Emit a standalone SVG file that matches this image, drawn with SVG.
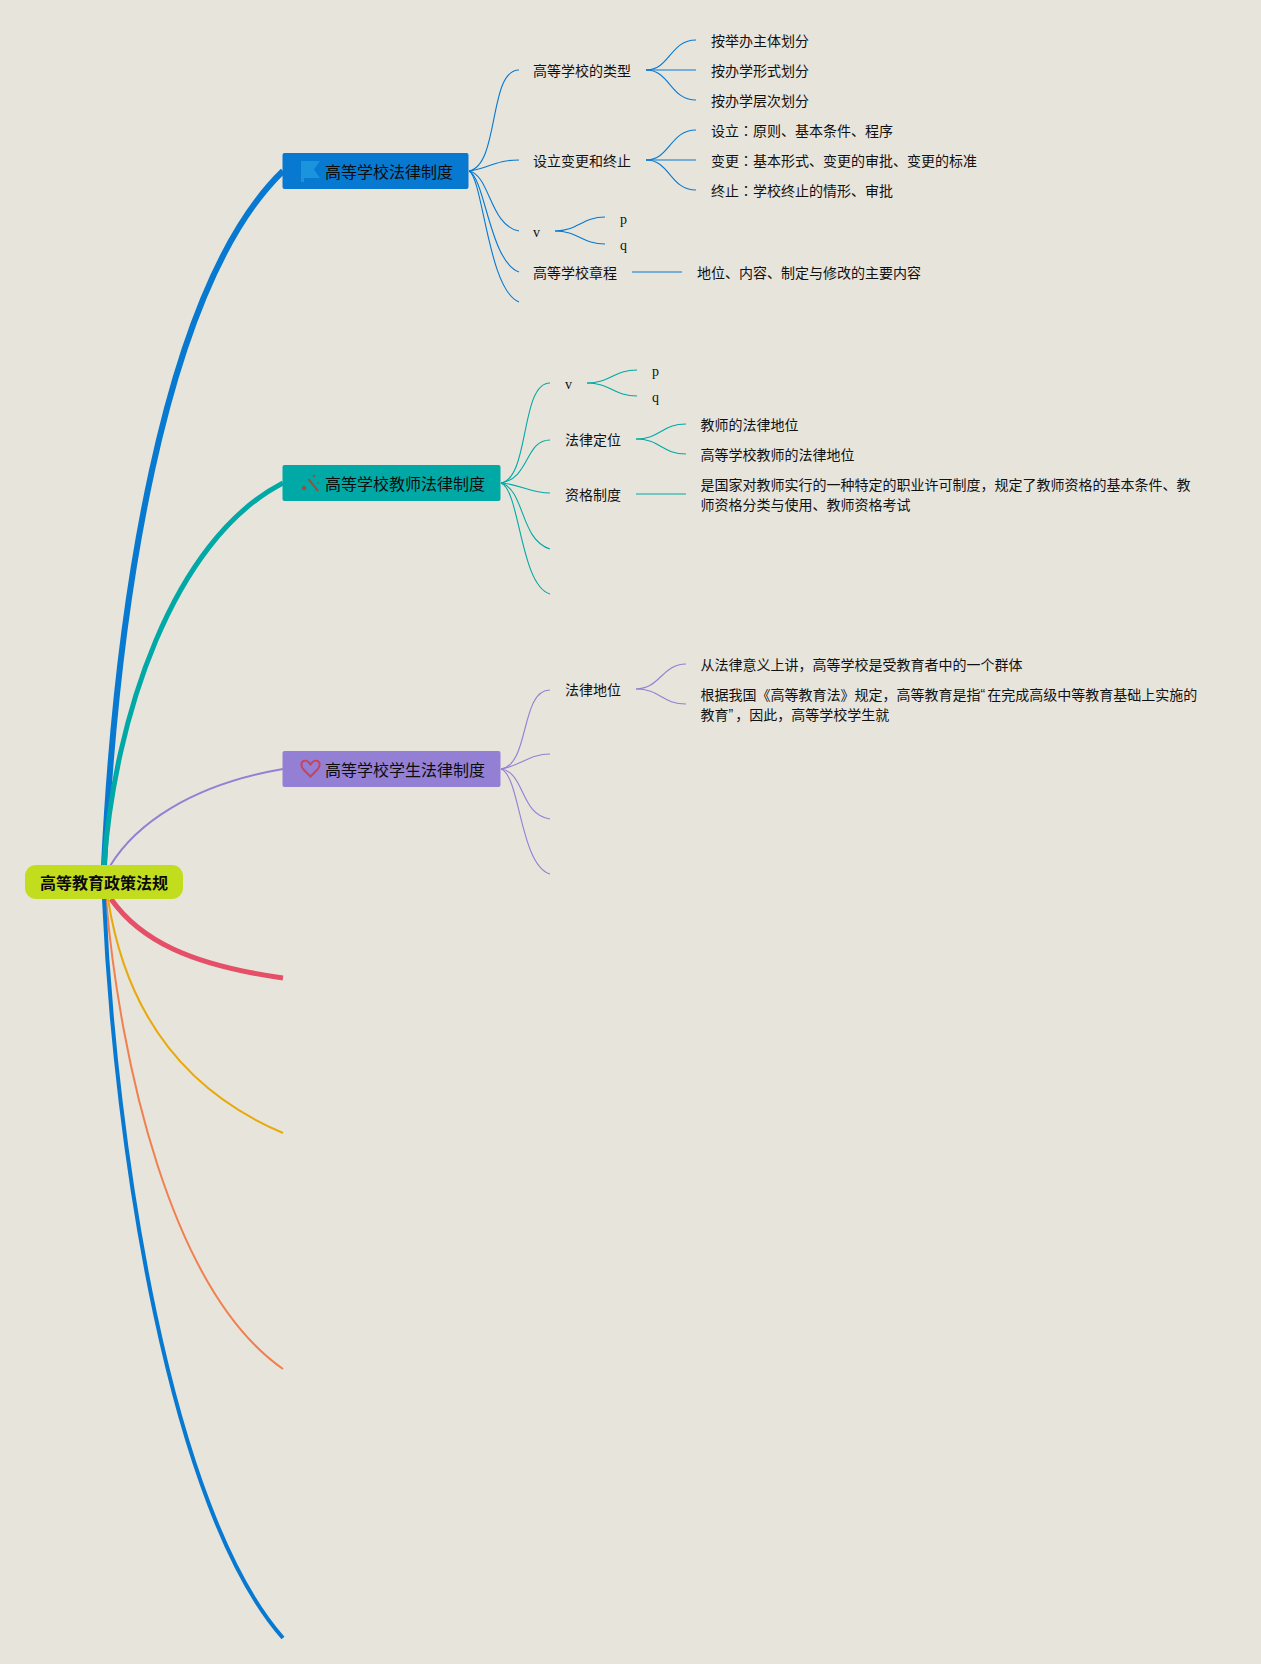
<svg xmlns="http://www.w3.org/2000/svg" width="1261" height="1664" viewBox="0 0 1261 1664">
<style>
text{font-family:"Noto Sans CJK SC","Noto Sans",sans-serif;fill:#111;dominant-baseline:central}
.s{font-size:14px}
.m{font-size:16px;fill:#0c0c0c}
.r{font-size:16px;font-weight:700;fill:#0c0c0c}
.l{font-family:"Liberation Serif",serif;font-size:14px}
.k{font-family:"Noto Sans CJK TC",sans-serif}
.q{font-family:"Liberation Sans",sans-serif}
path{fill:none}
.a{stroke:#0779d1}.b{stroke:#00a9a6}.c{stroke:#9380d4}
.t path{stroke-width:1.100}
</style>
<rect width="1261" height="1664" fill="#e7e4dc"/>
<g id="connectors">
<path d="M104 866C116 620 160 290 283 171" stroke="#0779d1" stroke-width="6"/>
<path d="M104 866C114 720 172 540 283 483" stroke="#00a9a6" stroke-width="5"/>
<path d="M110 866C135 825 190 785 283 769" stroke="#9380d4" stroke-width="2"/>
<path d="M111 899C140 940 190 965 283 978" stroke="#e55068" stroke-width="5"/>
<path d="M108 899C123 995 170 1085 283 1133" stroke="#e8a90a" stroke-width="2"/>
<path d="M106 899C120 1060 170 1290 283 1369" stroke="#f0804f" stroke-width="2"/>
<path d="M104 899C115 1150 170 1510 283 1638" stroke="#0779d1" stroke-width="4"/>
<g class="a t">
<path d="M469 171C500 165 488 70 519 70"/>
<path d="M469 171C490 168 495 160 519 160"/>
<path d="M469 171C490 175 490 226 519 231"/>
<path d="M469 171C485 178 490 262 519 272"/>
<path d="M469 171C483 178 488 290 519 302"/>
<path d="M646 70C670 70 670 40 696 40"/><path d="M646 70H696"/><path d="M646 70C670 70 670 100 696 100"/>
<path d="M646 160C670 160 670 130 696 130"/><path d="M646 160H696"/><path d="M646 160C670 160 670 190 696 190"/>
<path d="M555 231C578 231 582 217 605 217"/><path d="M555 231C578 231 582 244 605 244"/>
<path d="M632 272H682"/>
</g>
<g class="b t">
<path d="M501 483C530 478 520 383 550 383"/>
<path d="M501 483C530 478 525 440 550 440"/>
<path d="M501 483C520 484 530 493 550 493"/>
<path d="M501 483C525 490 520 540 550 549"/>
<path d="M501 483C520 490 520 585 550 594"/>
<path d="M587 383C610 383 614 370 637 370"/><path d="M587 383C610 383 614 396 637 396"/>
<path d="M636 439C660 439 662 424 686 424"/><path d="M636 439C660 439 662 454 686 454"/>
<path d="M636 494H686"/>
</g>
<g class="c t">
<path d="M501 769C530 765 520 690 550 690"/>
<path d="M501 769C520 766 530 754 550 754"/>
<path d="M501 769C525 772 520 815 550 819"/>
<path d="M501 769C520 775 520 865 550 874"/>
<path d="M636 689C660 689 662 664 686 664"/><path d="M636 689C660 689 662 704 686 704"/>
</g>
</g>
<g id="root"><rect x="25" y="865" width="158" height="34" rx="11" fill="#c2dd1e"/><text class="r" x="40" y="882">高等教育政策法规</text></g>
<g id="n1"><rect x="282.500" y="153" width="186" height="36" rx="2" fill="#0779d1"/><path d="M301 161H320L314 169.500 320 178H304V182H301Z" style="fill:#1a94dd"/><text class="m" x="325" y="170.500">高等学校法律制度</text></g>
<g id="n2"><rect x="282.500" y="465" width="218" height="36" rx="2" fill="#00a9a6"/><path d="M308.500 479L318 491" stroke="#a04a35" stroke-width="2"/><path d="M301.500 488l2.500-2.500 2.500 2.500-2.500 2.500zM312.500 476l1.500-1.500 1.500 1.500-1.500 1.500zM317 483l1-1 1 1-1 1z" style="fill:#a04a35"/><text class="m" x="325" y="482.500">高等学校教师法律制度</text></g>
<g id="n3"><rect x="282.500" y="751" width="218" height="36" rx="2" fill="#9380d4"/><path d="M310.500 776.500L303.500 769.500C297.500 762 305.500 757 310.500 764.500C315.500 757 323.500 762 317.500 769.500Z" stroke="#c94256" stroke-width="2"/><text class="m" x="325" y="768.500">高等学校学生法律制度</text></g>
<g id="t1"><text class="s" x="533" y="70">高等学校的类型</text></g>
<g id="t2"><text class="s" x="533" y="160">设立变更和终止</text></g>
<g id="t3"><text class="l" x="533" y="232">v</text></g>
<g id="t4"><text class="s" x="533" y="272">高等学校章程</text></g>
<g id="t5"><text class="s" x="711" y="40">按举办主体划分</text></g>
<g id="t6"><text class="s" x="711" y="70">按办学形式划分</text></g>
<g id="t7"><text class="s" x="711" y="100">按办学层次划分</text></g>
<g id="t8"><text class="s" x="711" y="130">设立<tspan class="k">：</tspan>原则、基本条件、程序</text></g>
<g id="t9"><text class="s" x="711" y="160">变更<tspan class="k">：</tspan>基本形式、变更的审批、变更的标准</text></g>
<g id="t10"><text class="s" x="711" y="190">终止<tspan class="k">：</tspan>学校终止的情形、审批</text></g>
<g id="t11"><text class="l" x="620" y="219">p</text></g>
<g id="t12"><text class="l" x="620" y="245">q</text></g>
<g id="t13"><text class="s" x="697" y="272">地位、内容、制定与修改的主要内容</text></g>
<g id="t14"><text class="l" x="565" y="384">v</text></g>
<g id="t15"><text class="s" x="565" y="439">法律定位</text></g>
<g id="t16"><text class="s" x="565" y="494">资格制度</text></g>
<g id="t17"><text class="l" x="652" y="371">p</text></g>
<g id="t18"><text class="l" x="652" y="397">q</text></g>
<g id="t19"><text class="s" x="700.500" y="424">教师的法律地位</text></g>
<g id="t20"><text class="s" x="700.500" y="454">高等学校教师的法律地位</text></g>
<g id="t21"><text class="s" x="700.500" y="484">是国家对教师实行的一种特定的职业许可制度，规定了教师资格的基本条件、教</text><text class="s" x="700.500" y="504">师资格分类与使用、教师资格考试</text></g>
<g id="t22"><text class="s" x="565" y="689">法律地位</text></g>
<g id="t23"><text class="s" x="700.500" y="664">从法律意义上讲，高等学校是受教育者中的一个群体</text></g>
<g id="t24"><text class="s" x="700.500" y="694">根据我国《高等教育法》规定，高等教育是指<tspan class="q">“</tspan><tspan dx="2">在</tspan>完成高级中等教育基础上实施的</text><text class="s" x="700.500" y="714">教育<tspan class="q">”</tspan><tspan dx="2">，</tspan>因此，高等学校学生就</text></g>
</svg>
